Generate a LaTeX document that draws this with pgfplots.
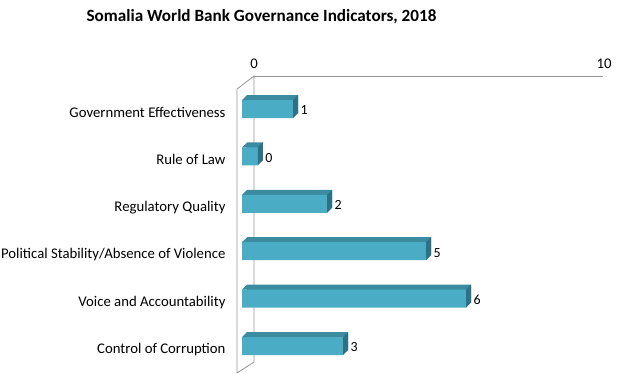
\documentclass[border=0pt]{standalone}
\usepackage{pgfplots}
\usepackage{pgfplotstable}
\pgfplotsset{compat=1.18}
\usepackage{fontspec}
\setmainfont{Carlito}
\definecolor{frontc}{HTML}{4BACC6}
\definecolor{topc}{HTML}{3B8CA1}
\definecolor{sidec}{HTML}{2E7184}
\definecolor{framec}{HTML}{969696}
\pgfdeclareplotmark{sideface}{%
 \pgfpathmoveto{\pgfqpoint{0bp}{-9bp}}%
 \pgfpathlineto{\pgfqpoint{0bp}{9bp}}%
 \pgfpathlineto{\pgfqpoint{5bp}{14bp}}%
 \pgfpathlineto{\pgfqpoint{5bp}{-4bp}}%
 \pgfpathclose
 \pgfusepathqfill}
\pgfdeclareplotmark{lefttri}{%
 \pgfpathmoveto{\pgfqpoint{0bp}{9bp}}%
 \pgfpathlineto{\pgfqpoint{5.2bp}{14bp}}%
 \pgfpathlineto{\pgfqpoint{5.2bp}{9bp}}%
 \pgfpathclose
 \pgfusepathqfill}
\pgfplotstableread{
idx val
0 1.46
1 0.45
2 2.43
3 5.26
4 6.40
5 2.89
}\datatable
\begin{document}
\begin{tikzpicture}
\useasboundingbox (0,0) rectangle (622bp,375bp);
\draw[framec, line width=0.8bp] (254bp,299bp) -- (603bp,299bp);
\draw[framec, line width=0.8bp] (254bp,299bp) -- (254bp,13bp) -- (237bp,2bp) -- (237bp,286bp) -- cycle;
\node[font=\bfseries\fontsize{17.2}{19}\selectfont] at (261.5bp,358bp) {Somalia World Bank Governance Indicators, 2018};
\begin{axis}[
 at={(242bp,5.3bp)}, anchor=south west,
 scale only axis, width=350bp, height=284.4bp,
 xmin=0, xmax=10, ymin=-0.5, ymax=5.5, y dir=reverse,
 /pgf/number format/assume math mode=true,
 axis line style={draw=none}, major tick length=0pt,
 tick label style={font=\fontsize{14.8}{16}\selectfont},
 xtick={0,10}, xticklabel pos=upper,
 xticklabel style={xshift=12bp, yshift=13bp},
 ytick={0,1,2,3,4,5},
 yticklabels={Government Effectiveness, Rule of Law, Regulatory Quality, Political Stability/Absence of Violence, Voice and Accountability, Control of Corruption},
 yticklabel style={anchor=east, xshift=-13bp, yshift=-3.5bp},
 clip=false,
]
\addplot[xbar, bar shift=0pt, bar width=18bp, fill=topc, draw=none, xshift=5bp, yshift=5bp, forget plot] table[x=val,y=idx]{\datatable};
\addplot[only marks, mark=lefttri, color=topc, forget plot] table[x expr=0,y=idx]{\datatable};
\addplot[only marks, mark=sideface, color=sidec, forget plot] table[x=val,y=idx]{\datatable};
\addplot[xbar, bar shift=0pt, bar width=18bp, fill=frontc, draw=none,
 nodes near coords={\pgfmathprintnumber[fixed,precision=0,assume math mode=true]{\pgfplotspointmeta}},
 point meta=x,
 every node near coord/.append style={anchor=west, xshift=4bp, yshift=-1.5bp, font=\fontsize{14}{16}\selectfont, black}] table[x=val,y=idx]{\datatable};
\end{axis}
\end{tikzpicture}
\end{document}
